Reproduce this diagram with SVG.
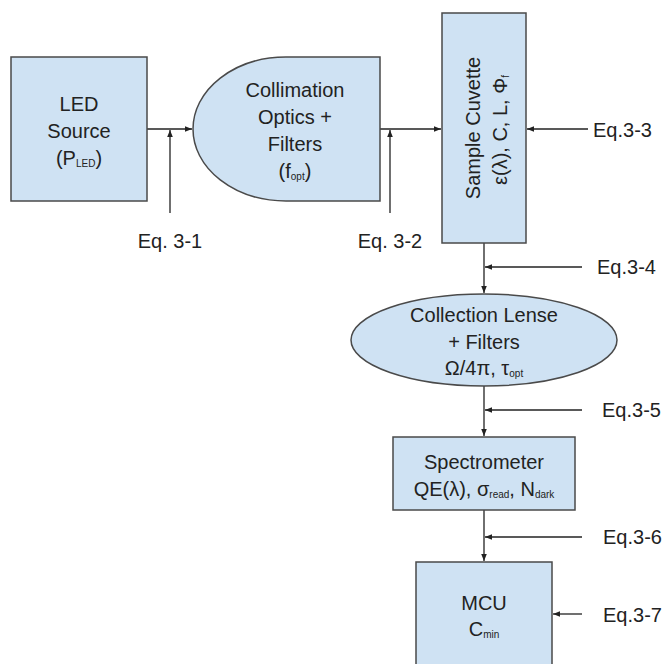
<svg xmlns="http://www.w3.org/2000/svg" width="666" height="664" viewBox="0 0 666 664">
<defs>
<style>
.n{fill:#cfe2f3;stroke:#4a4a4a;stroke-width:1.5}
.t{font-family:"Liberation Sans",Arial,sans-serif;font-size:20px;fill:#222;text-anchor:middle}
.s{font-size:10px}
.l{fill:none;stroke:#222;stroke-width:1.3}
.e{font-family:"Liberation Sans",Arial,sans-serif;font-size:20px;fill:#222}
</style>
<marker id="a" viewBox="0 0 10 10" refX="10" refY="5" markerWidth="7" markerHeight="7" markerUnits="userSpaceOnUse" orient="auto">
<path d="M0,1 L10,5 L0,9 Z" fill="#222"/>
</marker>
</defs>
<rect width="666" height="664" fill="#fff"/>
<g id="connectors">
<line class="l" x1="147" y1="129" x2="192" y2="129" marker-end="url(#a)"/>
<line class="l" x1="170" y1="213" x2="170" y2="130" marker-end="url(#a)"/>
<line class="l" x1="380" y1="129" x2="441" y2="129" marker-end="url(#a)"/>
<line class="l" x1="390" y1="213" x2="390" y2="130" marker-end="url(#a)"/>
<line class="l" x1="588" y1="129" x2="527" y2="129" marker-end="url(#a)"/>
<line class="l" x1="484" y1="243" x2="484" y2="293" marker-end="url(#a)"/>
<line class="l" x1="582" y1="267" x2="485" y2="267" marker-end="url(#a)"/>
<line class="l" x1="484" y1="386" x2="484" y2="436" marker-end="url(#a)"/>
<line class="l" x1="582" y1="410" x2="485" y2="410" marker-end="url(#a)"/>
<line class="l" x1="484" y1="510" x2="484" y2="561" marker-end="url(#a)"/>
<line class="l" x1="582" y1="537" x2="485" y2="537" marker-end="url(#a)"/>
<line class="l" x1="582" y1="614" x2="553" y2="614" marker-end="url(#a)"/>
</g>
<g id="led">
<rect class="n" x="11" y="57" width="136" height="144"/>
<text class="t" x="79" y="111">LED</text>
<text class="t" x="79" y="138">Source</text>
<text class="t" x="79" y="165">(P<tspan class="s" dy="2">LED</tspan><tspan dy="-2">)</tspan></text>
</g>
<g id="collimation">
<path class="n" d="M380,57 L286,57 A93,72 0 0 0 286,201 L380,201 Z"/>
<text class="t" x="295" y="97">Collimation</text>
<text class="t" x="295" y="124">Optics +</text>
<text class="t" x="295" y="151">Filters</text>
<text class="t" x="295" y="178">(f<tspan class="s" dy="2">opt</tspan><tspan dy="-2">)</tspan></text>
</g>
<g id="cuvette">
<rect class="n" x="442" y="13" width="84" height="230"/>
<g transform="rotate(-90)">
<text class="t" x="-128" y="480">Sample Cuvette</text>
<text class="t" x="-130" y="507">ε(λ), C, L, Φ<tspan class="s" dy="2">f</tspan></text>
</g>
</g>
<g id="collection">
<ellipse class="n" cx="484" cy="340" rx="133" ry="46"/>
<text class="t" x="484" y="322">Collection Lense</text>
<text class="t" x="484" y="349">+ Filters</text>
<text class="t" x="484" y="375">Ω/4π, τ<tspan class="s" dy="2">opt</tspan></text>
</g>
<g id="spectrometer">
<rect class="n" x="393" y="437" width="182" height="73"/>
<text class="t" x="484" y="469">Spectrometer</text>
<text class="t" x="484" y="496">QE(λ), σ<tspan class="s" dy="2">read</tspan><tspan dy="-2">, N</tspan><tspan class="s" dy="2">dark</tspan></text>
</g>
<g id="mcu">
<rect class="n" x="416" y="562" width="136" height="110"/>
<text class="t" x="484" y="610">MCU</text>
<text class="t" x="484" y="636">C<tspan class="s" dy="2">min</tspan></text>
</g>
<g id="labels">
<text class="t" x="170" y="248">Eq. 3-1</text>
<text class="t" x="390" y="248">Eq. 3-2</text>
<text class="e" x="593" y="137">Eq.3-3</text>
<text class="e" x="597" y="274">Eq.3-4</text>
<text class="e" x="602" y="417">Eq.3-5</text>
<text class="e" x="603" y="544">Eq.3-6</text>
<text class="e" x="603" y="622">Eq.3-7</text>
</g>
</svg>
